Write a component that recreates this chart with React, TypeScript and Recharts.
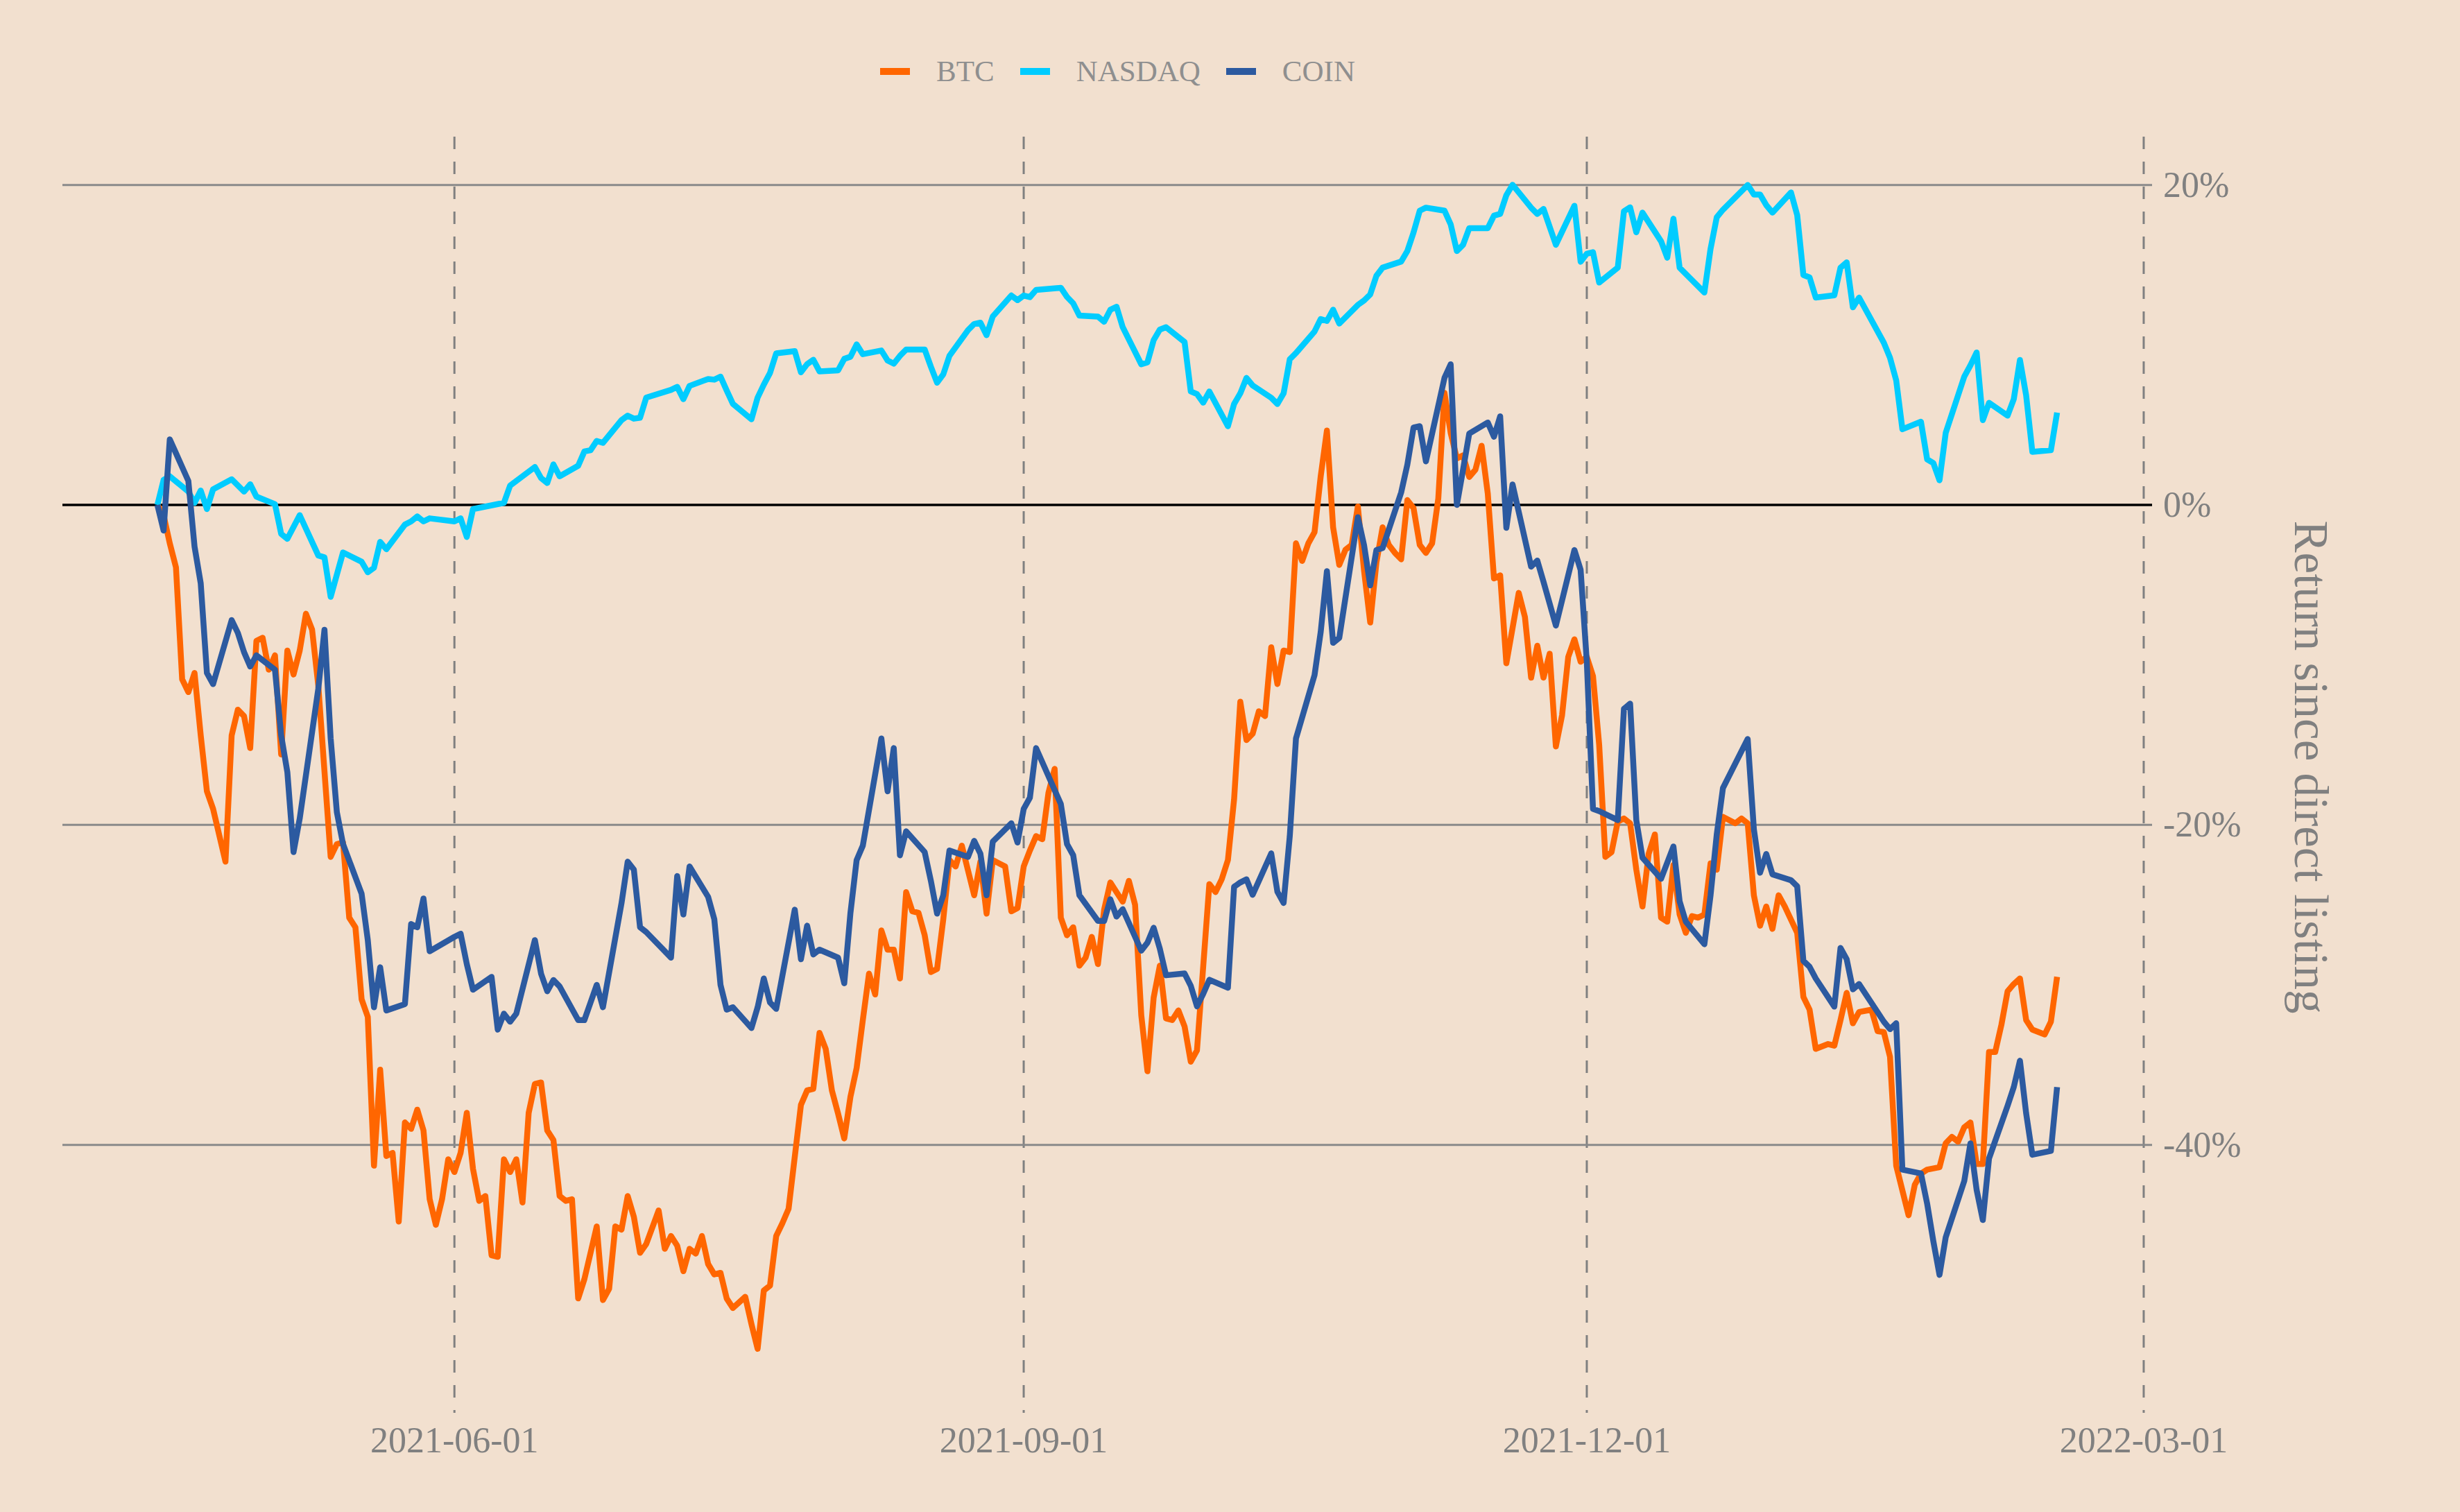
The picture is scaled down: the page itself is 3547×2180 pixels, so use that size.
import React from 'react';
import { LineChart, Line, XAxis, YAxis, CartesianGrid, Legend } from 'recharts';

// ---------- data (returns in % since COIN direct listing, x = days since listing) ----------
const LISTING_DATE = '2021-04-14';
const seriesNames = ['BTC', 'NASDAQ', 'COIN'];
const seriesColors = ['#FF6600', '#00CCFF', '#2C5AA0'];

const btcDays = [
  0, 1, 2, 3, 4, 5, 6, 7, 8, 9, 11, 12, 13, 14, 15, 16, 17, 18, 19, 20, 21, 22, 23, 24, 25, 26, 28, 29, 30,
  31, 32, 33, 34, 35, 36, 37, 38, 39, 40, 41, 42, 43, 44, 45, 46, 47, 48, 49, 50, 51, 52, 53, 54, 55, 56,
  57, 58, 59, 60, 61, 62, 63, 64, 65, 66, 67, 68, 69, 71, 72, 73, 74, 75, 76, 77, 78, 79, 81, 82, 83, 84,
  85, 86, 87, 88, 89, 90, 91, 92, 93, 95, 96, 97, 98, 99, 100, 101, 102, 104, 105, 106, 107, 108, 109,
  110, 111, 112, 113, 114, 115, 116, 117, 118, 119, 120, 121, 122, 123, 124, 125, 126, 127, 128, 129,
  130, 132, 133, 134, 135, 136, 137, 138, 139, 140, 141, 142, 143, 144, 145, 146, 147, 148, 149, 150,
  151, 152, 153, 154, 155, 156, 157, 158, 159, 160, 161, 162, 163, 164, 165, 166, 167, 168, 170, 171,
  172, 173, 174, 175, 176, 177, 178, 179, 180, 181, 182, 183, 184, 185, 186, 187, 188, 189, 190, 191,
  192, 193, 194, 195, 196, 197, 198, 199, 200, 201, 202, 203, 204, 205, 206, 207, 208, 209, 210, 211,
  212, 213, 214, 215, 216, 217, 218, 219, 220, 221, 222, 223, 224, 225, 226, 227, 228, 229, 230, 231,
  232, 233, 234, 235, 236, 237, 238, 239, 240, 241, 242, 243, 244, 245, 246, 247, 248, 249, 250, 251,
  252, 253, 255, 256, 257, 258, 259, 260, 261, 262, 263, 265, 266, 267, 268, 270, 271, 272, 273, 274,
  275, 277, 278, 279, 280, 281, 283, 284, 285, 286, 288, 289, 290, 291, 292, 293, 294, 295, 296, 297,
  298, 299, 300, 301, 302, 303, 305, 306, 307,
];
const btcReturns = [
  0, -0.65, -2.4, -3.9, -10.9, -11.7, -10.5, -14.4, -17.9, -19.0, -22.3, -14.4, -12.8, -13.2, -15.2, -8.5,
  -8.3, -10.3, -9.4, -15.6, -9.1, -10.6, -9.1, -6.8, -7.8, -11.3, -22.0, -21.2, -21.1,
  -25.8, -26.4, -30.9, -32.0, -41.3, -35.3, -40.7, -40.5, -44.8, -38.6, -39.0, -37.8, -39.1, -43.4, -45.0,
  -43.4, -40.9, -41.7, -40.5, -38.0, -41.5, -43.5, -43.2, -46.9, -47.0, -40.9,
  -41.7, -40.9, -43.6, -38.0, -36.2, -36.1, -39.1, -39.7, -43.2, -43.5, -43.4, -49.6, -48.4, -45.1, -49.7,
  -49.0, -45.1, -45.3, -43.2, -44.5, -46.75, -46.2, -44.1, -46.5, -45.7, -46.3,
  -47.9, -46.5, -46.8, -45.7, -47.45, -48.1, -48.0, -49.6, -50.2, -49.5, -51.2, -52.75, -49.1, -48.8, -45.7,
  -44.9, -44.0, -37.5, -36.6, -36.5, -33.0, -34.0, -36.6,
  -38.05, -39.6, -37.0, -35.2, -32.2, -29.3, -30.6, -26.6, -27.8, -27.8, -29.6, -24.2, -25.4, -25.5, -26.9,
  -29.2, -29.0, -25.9, -22.2, -22.6,
  -21.3, -24.4, -22.3, -25.55, -22.2, -22.4, -22.6, -25.4, -25.2, -22.6, -21.6, -20.7, -20.9, -18.0, -16.5,
  -25.8, -26.9, -26.4, -28.8, -28.3,
  -27.0, -28.7, -25.3, -23.6, -24.2, -24.8, -23.5, -25.0, -31.9, -35.4, -30.8, -28.8, -32.1, -32.2, -31.6,
  -32.6, -34.8, -34.1, -23.7, -24.2,
  -23.4, -22.2, -18.4, -12.3, -14.7, -14.3, -12.9, -13.2, -8.9, -11.2, -9.1, -9.2, -2.4, -3.5, -2.4, -1.7,
  1.8, 4.65, -1.4, -3.75,
  -2.8, -2.5, -0.1, -4.1, -7.35, -3.6, -1.4, -2.5, -3.0, -3.4, 0.3, -0.2, -2.5, -3.0, -2.4, 0.4, 7.0, 4.5,
  2.9, 3.1,
  1.75, 2.2, 3.7, 0.7, -4.6, -4.4, -9.9, -7.7, -5.5, -7.0, -10.8, -8.8, -10.8, -9.3, -15.1, -13.15, -9.5,
  -8.4, -9.8, -9.5,
  -10.7, -15.0, -22.0, -21.7, -19.8, -19.6, -19.9, -22.8, -25.1, -21.8, -20.6, -25.8, -26.05, -22.5, -25.6,
  -26.75, -25.7, -25.8, -25.6, -22.4,
  -22.8, -19.5, -19.9, -19.6, -19.9, -24.4, -26.3, -25.1, -26.5, -24.4, -25.1, -26.75, -30.75, -31.55, -34.0,
  -33.7, -33.8, -32.2, -30.5, -32.4,
  -31.7, -31.55, -32.9, -32.95, -34.5, -41.3, -44.4, -42.5, -41.8, -41.55, -41.4, -39.9, -39.5, -39.8, -38.9,
  -38.6, -41.2, -41.2, -34.2, -34.2,
  -32.5, -30.4, -29.95, -29.6, -32.2, -32.8, -33.1, -32.3, -29.5,
];

const nasdaqDays = [
  0, 1, 2, 5, 6, 7, 8, 9, 12, 14, 15, 16, 19, 20, 21, 23, 26, 27, 28, 30, 33, 34, 35, 36, 37, 40, 41, 42,
  43, 44, 48, 49, 50, 51, 56, 57, 61, 62, 63, 64, 65, 68, 69, 70, 71, 72, 75, 76, 77, 78, 79, 83, 84, 85,
  86, 89, 90, 91, 92, 93, 96, 97, 98, 99, 100, 103, 104, 105, 106, 107, 110, 111, 112, 113, 114, 117, 118,
  119, 120, 121, 124, 125, 126, 127, 128, 131, 132, 133, 134, 135, 138, 139, 140, 141, 142, 146, 147, 148,
  149, 152, 153, 154, 155, 156, 159, 160, 161, 162, 163, 166, 167, 168, 169, 170, 173, 174, 175, 176, 177,
  180, 181, 182, 183, 184, 187, 188, 189, 190, 191, 194, 195, 196, 197, 198, 201, 202, 203, 204, 205, 208,
  209, 210, 211, 212, 215, 216, 217, 218, 219, 222, 223, 224, 226, 229, 230, 231, 232, 233, 236, 237, 238,
  239, 240, 243, 244, 245, 246, 250, 251, 252, 253, 257, 258, 259, 260, 261, 264, 265, 266, 267, 268, 271,
  272, 273, 274, 275, 279, 280, 281, 282, 285, 286, 287, 288, 289, 292, 293, 294, 295, 296, 299, 300, 301,
  302, 303, 306, 307,
];
const nasdaqReturns = [
  0, 1.56, 1.79, 0.83, 0.13, 0.9, -0.26, 0.98, 1.6, 0.83, 1.29, 0.52, 0.05, -1.81, -2.12, -0.64, -3.16,
  -3.28, -5.75, -2.97, -3.55, -4.21, -3.93, -2.31, -2.77, -1.23, -1.03, -0.72,
  -1.03, -0.84, -1.03, -0.84, -2.0, -0.26, 0.13, 1.21, 2.37, 1.68, 1.37, 2.53, 1.79, 2.45, 3.34, 3.42, 4.0,
  3.88, 5.3, 5.58, 5.39, 5.45, 6.71, 7.19, 7.38, 6.61,
  7.44, 7.87, 7.83, 8.02, 7.15, 6.32, 5.35, 6.71, 7.52, 8.25, 9.47, 9.61, 8.29, 8.8, 9.07, 8.35, 8.41, 9.13,
  9.26, 10.03, 9.42, 9.65, 9.03,
  8.83, 9.32, 9.71, 9.71, 8.64, 7.64, 8.16, 9.32, 10.92, 11.31, 11.39, 10.61, 11.78, 13.09, 12.8, 13.09,
  12.99, 13.44, 13.57, 13.0, 12.6,
  11.83, 11.77, 11.45, 12.2, 12.39, 11.11, 8.79, 8.91, 10.3, 10.96, 11.11, 10.18, 7.09, 6.93, 6.39, 7.09,
  4.92, 6.31, 6.97, 7.94, 7.47,
  6.7, 6.31, 6.97, 9.1, 9.49, 10.84, 11.62, 11.5, 12.2, 11.34, 12.5, 12.78, 13.16, 14.32, 14.83, 15.21,
  15.87, 17.03, 18.39, 18.58, 18.39,
  17.54, 15.87, 16.26, 17.3, 17.3, 18.08, 18.19, 19.36, 20.01, 18.58, 18.19, 18.5, 16.26, 18.7, 15.2, 15.7,
  15.8, 13.9, 14.83, 18.36, 18.6,
  17.04, 18.27, 16.48, 15.45, 17.89, 14.83, 13.28, 16.01, 17.98, 18.45, 20.0, 19.4, 19.4, 18.74, 18.27,
  19.53, 18.12, 14.37, 14.22, 12.96, 13.1,
  14.83, 15.16, 12.35, 12.96, 10.14, 9.2, 7.79, 4.73, 5.2, 2.85, 2.62, 1.54, 4.5, 8.02, 8.73, 9.53, 5.3,
  6.38, 5.58, 6.61, 9.06,
  6.85, 3.32, 3.42, 5.77,
];

const coinDays = [
  0, 1, 2, 5, 6, 7, 8, 9, 12, 13, 14, 15, 16, 19, 20, 21, 22, 23, 26, 27, 28, 29, 30, 33, 34, 35, 36, 37,
  40, 41, 42, 43, 44, 48, 49, 50, 51, 54, 55, 56, 57, 58, 61, 62, 63, 64, 65, 68, 69, 70, 71, 72, 75, 76,
  77, 78, 79, 83, 84, 85, 86, 89, 90, 91, 92, 93, 96, 97, 98, 99, 100, 103, 104, 105, 106, 107, 110, 111,
  112, 113, 114, 117, 118, 119, 120, 121, 124, 125, 126, 127, 128, 131, 132, 133, 134, 135, 138, 139, 140,
  141, 142, 146, 147, 148, 149, 152, 153, 154, 155, 156, 159, 160, 161, 162, 163, 166, 167, 168, 169, 170,
  173, 174, 175, 176, 177, 180, 181, 182, 183, 184, 187, 188, 189, 190, 191, 194, 195, 196, 197, 198, 201,
  202, 203, 204, 205, 208, 209, 210, 211, 212, 215, 216, 217, 218, 219, 222, 223, 224, 226, 229, 230, 231,
  232, 233, 236, 237, 238, 239, 240, 243, 245, 246, 247, 250, 251, 252, 253, 257, 258, 259, 260, 261, 264,
  265, 266, 267, 268, 271, 272, 273, 274, 275, 279, 280, 281, 282, 285, 286, 287, 288, 289, 292, 293, 294,
  295, 296, 299, 300, 301, 302, 303, 306, 307,
];
const coinReturns = [
  0, -1.6, 4.1, 1.5, -2.6, -4.9, -10.5, -11.2, -7.2, -8.0, -9.2, -10.1, -9.4, -10.3, -14.4, -16.7, -21.7,
  -19.6, -11.5, -7.8, -14.6, -19.2, -21.2, -24.3, -27.2, -31.4, -28.9, -31.6,
  -31.2, -26.2, -26.4, -24.6, -27.9, -27.0, -26.8, -28.7, -30.3, -29.5, -32.8, -31.8, -32.3, -31.8, -27.2,
  -29.3, -30.4, -29.7, -30.1, -32.2, -32.2, -31.1, -30.0, -31.4, -24.9, -22.3,
  -22.8, -26.4, -26.7, -28.3, -23.2, -25.6, -22.6, -24.5, -25.9, -30.0, -31.55, -31.4, -32.7, -31.4, -29.6,
  -31.1, -31.5, -25.3, -28.4, -26.3, -28.1, -27.8, -28.3, -29.9,
  -25.5, -22.2, -21.3, -14.6, -17.9, -15.2, -21.9, -20.4, -21.7, -23.5, -25.55, -24.4, -21.6, -22.0, -21.0,
  -21.8, -24.4, -21.05, -19.9, -21.1, -19.0,
  -18.3, -15.2, -18.7, -21.2, -21.9, -24.4, -26.0, -26.0, -24.65, -25.73, -25.27, -27.86, -27.36, -26.43,
  -27.74, -29.4, -29.29, -30.06, -31.34, -30.57, -29.68,
  -30.18, -23.87, -23.6, -23.4, -24.37, -21.78, -24.18, -24.88, -20.7, -14.6, -10.64, -7.93, -4.14, -8.62,
  -8.31, -0.77, -2.51, -5.03, -2.82, -2.7, 0.78,
  2.52, 4.84, 4.92, 2.72, 7.94, 8.79, 0.0, 2.2, 4.46, 5.15, 4.26, 5.54, -1.43, 1.28, -3.86, -3.48, -4.8,
  -7.54, -2.82, -4.06, -9.8,
  -19.0, -19.14, -19.7, -12.75, -12.42, -19.7, -22.05, -23.37, -21.35, -24.78, -26.05, -27.46, -24.4, -20.6,
  -17.7, -14.63, -20.27, -22.99, -21.82, -23.09, -23.46,
  -23.84, -28.5, -28.87, -29.6, -31.36, -27.69, -28.4, -30.28, -29.95, -32.3, -32.77, -32.4, -41.55, -41.79,
  -43.67, -46.02, -48.13, -45.78, -42.26, -39.91, -42.82,
  -44.7, -40.85, -37.56, -36.39, -34.74, -38.03, -40.62, -40.38, -36.39,
];

const xTickLabels = ['2021-06-01', '2021-09-01', '2021-12-01', '2022-03-01'];
const yTickValues = [20, 0, -20, -40];
const yAxisTitle = 'Return since direct listing';

// ---------- helpers ----------
const DAY_MS = 86400000;
const dayOf = (s: string) => Math.round((Date.parse(s) - Date.parse(LISTING_DATE)) / DAY_MS);
const xTicks = xTickLabels.map(dayOf);
const toRows = (days: number[], vals: number[]) => days.map((d, i) => ({ d, v: vals[i] }));
const seriesData = [toRows(btcDays, btcReturns), toRows(nasdaqDays, nasdaqReturns), toRows(coinDays, coinReturns)];

const allDays = [...btcDays, ...nasdaqDays, ...coinDays];
const dMin = Math.min(...allDays);
const dMax = Math.max(...allDays);
const dPad = (dMax - dMin) * 0.05;
const X_DOMAIN: [number, number] = [dMin - dPad, dMax + dPad];
const Y_DOMAIN: [number, number] = [-56.75, 23.02];

const W = 3547;
const H = 2180;
const BG = '#F2E0CF';
const FONT = '"Liberation Serif", "DejaVu Serif", serif';
const TICK_COLOR = '#808080';

const XTick = (props: any) => {
  const { x, y, payload } = props;
  const idx = xTicks.indexOf(payload.value);
  return (
    <text x={x} y={y + 57} textAnchor="middle" fill={TICK_COLOR} fontSize={52} fontFamily={FONT}>
      {idx >= 0 ? xTickLabels[idx] : ''}
    </text>
  );
};

const YTick = (props: any) => {
  const { x, y, payload } = props;
  return (
    <text x={x + 16} y={y + 17} textAnchor="start" fill={TICK_COLOR} fontSize={52} fontFamily={FONT}>
      {`${payload.value}%`}
    </text>
  );
};

const YTitle = () => (
  <text
    x={3309}
    y={1106}
    textAnchor="middle"
    fill={TICK_COLOR}
    fontSize={69}
    fontFamily={FONT}
    transform="rotate(90, 3309, 1106)"
  >
    {yAxisTitle}
  </text>
);

const LegendContent = () => (
  <div
    style={{
      display: 'flex',
      alignItems: 'center',
      height: 50,
      fontFamily: FONT,
      fontSize: 43,
      color: '#8f8f8f',
      whiteSpace: 'nowrap',
    }}
  >
    {seriesNames.map((n, i) => (
      <div key={n} style={{ display: 'flex', alignItems: 'center', marginRight: 37 }}>
        <span style={{ display: 'inline-block', width: 43, height: 10, background: seriesColors[i], marginRight: 38 }} />
        <span style={{ lineHeight: '50px' }}>{n}</span>
      </div>
    ))}
  </div>
);

export default function App() {
  return (
    <div style={{ position: 'absolute', left: 0, top: 0, width: W, height: H, background: BG, overflow: 'hidden' }}>
      <LineChart width={W} height={H} margin={{ top: 197, left: 90, right: 194, bottom: 63 }}>
        <CartesianGrid
          horizontal={false}
          vertical
          verticalValues={xTicks}
          stroke="#808080"
          strokeWidth={3}
          strokeDasharray="18 18"
        />
        <CartesianGrid vertical={false} horizontalValues={[20, -20, -40]} stroke="#8a8a8a" strokeWidth={3} />
        <CartesianGrid vertical={false} horizontalValues={[0]} stroke="#000000" strokeWidth={3.5} />
        <XAxis
          type="number"
          dataKey="d"
          domain={X_DOMAIN}
          ticks={xTicks}
          interval={0}
          allowDataOverflow
          axisLine={false}
          tickLine={false}
          tickSize={0}
          tickMargin={0}
          height={80}
          tick={<XTick />}
        />
        <YAxis
          type="number"
          orientation="right"
          domain={Y_DOMAIN}
          ticks={yTickValues}
          interval={0}
          allowDataOverflow
          axisLine={false}
          tickLine={false}
          tickSize={0}
          tickMargin={0}
          width={250}
          tick={<YTick />}
          label={<YTitle />}
        />
        <Legend
          layout="horizontal"
          verticalAlign="middle"
          align="center"
          content={<LegendContent />}
          wrapperStyle={{ top: 78, left: 1269, width: 900, height: 50 }}
        />
        {seriesNames.map((n, i) => (
          <Line
            key={n}
            name={n}
            data={seriesData[i]}
            dataKey="v"
            type="linear"
            stroke={seriesColors[i]}
            strokeWidth={8.5}
            strokeLinejoin="round"
            dot={false}
            activeDot={false}
            isAnimationActive={false}
          />
        ))}
      </LineChart>
    </div>
  );
}
